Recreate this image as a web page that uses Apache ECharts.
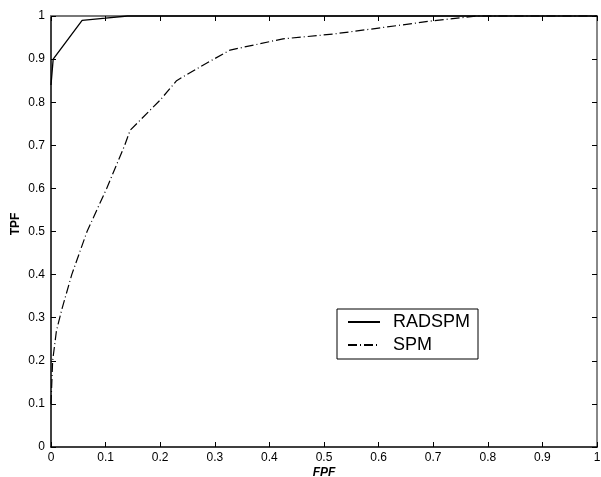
<!DOCTYPE html>
<html>
<head>
<meta charset="utf-8">
<script src="https://cdn.jsdelivr.net/npm/echarts@6/dist/echarts.min.js"></script>
<style>
html,body{margin:0;padding:0;background:#fff;}
#chart{width:601px;height:477px;}
</style>
</head>
<body>
<div id="chart"></div>
<script>
// FPF / TPF values
var radspmFPF = [0, 0.004, 0.057, 0.1, 0.14, 1];
var radspmTPF = [0.84, 0.90, 0.99, 0.995, 1.0, 1.0];

var spmFPF = [0, 0.003, 0.01, 0.02, 0.038, 0.066, 0.102, 0.135, 0.145, 0.2, 0.23, 0.273, 0.328, 0.425, 0.516, 0.6, 0.70, 0.78, 1];
var spmTPF = [0.10, 0.20, 0.27, 0.32, 0.40, 0.50, 0.60, 0.70, 0.735, 0.805, 0.85, 0.882, 0.921, 0.947, 0.958, 0.972, 0.989, 1.0, 1.0];

var seriesNames = ['RADSPM', 'SPM'];
var xLabel = 'FPF';
var yLabel = 'TPF';

function pairs(xs, ys){ return xs.map(function(x,i){ return [x, ys[i]]; }); }

var font = 'Liberation Sans, Arial, Helvetica, sans-serif';
var chart = echarts.init(document.getElementById('chart'), null, {renderer:'canvas'});

var axisCommon = {
  type: 'value', min: 0, max: 1, interval: 0.1,
  splitLine: {show:false},
  axisTick: {show:true, inside:true, length:5, lineStyle:{color:'#000', width:1}}
};

chart.setOption({
  animation: false,
  backgroundColor: '#fff',
  grid: {left: 51, right: 4, top: 16, bottom: 30, containLabel: false, outerBoundsMode: 'none'},
  xAxis: [
    Object.assign({}, axisCommon, {
      position: 'bottom',
      name: xLabel, nameLocation: 'middle', nameGap: 20, nameMoveOverlap: false,
      nameTextStyle: {fontFamily: font, fontSize: 12, fontWeight: 'bold', fontStyle: 'italic', color: '#000', verticalAlign: 'top'},
      axisLine: {show:true, onZero:false, lineStyle:{color:'#000', width:1.5}},
      axisLabel: {fontFamily: font, fontSize: 12, color:'#000', margin: 5}
    }),
    Object.assign({}, axisCommon, {
      position: 'top',
      axisLine: {show:true, onZero:false, lineStyle:{color:'#777', width:2}},
      axisLabel: {show:false}
    })
  ],
  yAxis: [
    Object.assign({}, axisCommon, {
      position: 'left',
      name: yLabel, nameLocation: 'middle', nameGap: 29, nameRotate: 90, nameMoveOverlap: false,
      nameTextStyle: {fontFamily: font, fontSize: 12, fontWeight: 'bold', color: '#000', padding: [0, 0, 0, 15]},
      axisLine: {show:true, onZero:false, lineStyle:{color:'#000', width:1.5}},
      axisLabel: {fontFamily: font, fontSize: 12, color:'#000', margin: 6}
    }),
    Object.assign({}, axisCommon, {
      position: 'right',
      axisLine: {show:true, onZero:false, lineStyle:{color:'#888', width:2}},
      axisLabel: {show:false}
    })
  ],
  legend: {
    orient: 'vertical',
    left: 337, top: 309,
    padding: [4, 8, 5, 10],
    itemGap: 5,
    itemWidth: 32, itemHeight: 14,
    borderColor: '#000', borderWidth: 1,
    backgroundColor: '#fff',
    itemStyle: {color: 'rgba(0,0,0,0)', borderColor: 'rgba(0,0,0,0)', borderWidth: 0, opacity: 0},
    textStyle: {fontFamily: font, fontSize: 18, color:'#000', padding:[0,0,0,8]},
    data: seriesNames
  },
  series: [
    {
      name: seriesNames[0], type: 'line', data: pairs(radspmFPF, radspmTPF),
      showSymbol: false, symbol: 'none', clip: false,
      lineStyle: {color:'#000', width: 1.3, type: 'solid'},
      itemStyle: {color:'#000'}
    },
    {
      name: seriesNames[1], type: 'line', data: pairs(spmFPF, spmTPF),
      showSymbol: false, symbol: 'none', clip: false,
      lineStyle: {color:'#000', width: 1.2, type: [9, 3, 1, 3]},
      itemStyle: {color:'#000'}
    }
  ]
});
</script>
</body>
</html>
